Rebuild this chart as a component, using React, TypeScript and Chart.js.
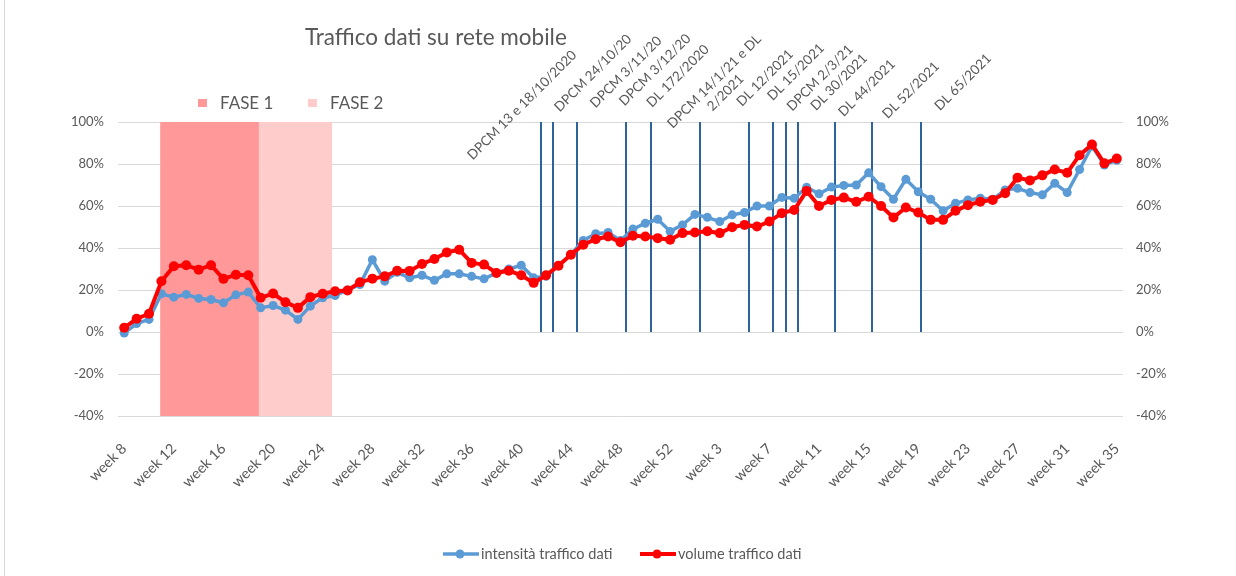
import React, { useEffect, useRef } from 'react';
import { Chart, registerables } from 'chart.js';

Chart.register(...registerables);

// ---------- data ----------
const weeks = [
  'week 8', 'week 9', 'week 10', 'week 11', 'week 12', 'week 13', 'week 14', 'week 15', 'week 16', 'week 17',
  'week 18', 'week 19', 'week 20', 'week 21', 'week 22', 'week 23', 'week 24', 'week 25', 'week 26', 'week 27',
  'week 28', 'week 29', 'week 30', 'week 31', 'week 32', 'week 33', 'week 34', 'week 35', 'week 36', 'week 37',
  'week 38', 'week 39', 'week 40', 'week 41', 'week 42', 'week 43', 'week 44', 'week 45', 'week 46', 'week 47',
  'week 48', 'week 49', 'week 50', 'week 51', 'week 52', 'week 53', 'week 1', 'week 2', 'week 3', 'week 4',
  'week 5', 'week 6', 'week 7', 'week 8', 'week 9', 'week 10', 'week 11', 'week 12', 'week 13', 'week 14',
  'week 15', 'week 16', 'week 17', 'week 18', 'week 19', 'week 20', 'week 21', 'week 22', 'week 23', 'week 24',
  'week 25', 'week 26', 'week 27', 'week 28', 'week 29', 'week 30', 'week 31', 'week 32', 'week 33', 'week 34',
  'week 35',
];

// intensità traffico dati (%)
const intensita = [
  -0.5, 4, 6, 18.2, 16.6, 17.9, 16, 15.5, 13.9, 17.7,
  19, 11.5, 12.6, 10.4, 6, 12.3, 16.3, 17.4, 20, 22.6,
  34.4, 24.2, 28.4, 25.8, 27, 24.6, 27.7, 27.7, 26.5, 25.3,
  28.1, 30, 31.8, 25.8, 26.5, 31.6, 37, 43.6, 46.8, 47.4,
  43.6, 49, 51.8, 53.7, 47.9, 51, 56, 54.6, 52.6, 55.8,
  56.9, 60, 60, 64.1, 63.7, 68.9, 65.8, 69, 69.8, 70,
  75.8, 69.2, 63.2, 72.7, 66.8, 63.2, 57.7, 61.3, 62.9, 63.7,
  63.2, 67.6, 68.4, 66.4, 65.3, 70.8, 66.4, 77.4, 88.5, 79.5,
  81.8,
];

// volume traffico dati (%)
const volume = [
  2, 6.3, 8.7, 24.2, 31.3, 31.8, 29.7, 31.8, 25.3, 27.3,
  27, 16.3, 18.3, 14.2, 11.5, 16.6, 18.2, 19.4, 19.8, 23.7,
  25.4, 26.5, 29.2, 29.1, 32.4, 34.8, 37.9, 39.2, 32.9, 32.1,
  28.1, 29.2, 27, 23.4, 27, 31.6, 36.8, 41.6, 44.2, 45.5,
  42.7, 45.8, 45.5, 44.7, 43.9, 47.1, 47.4, 48, 47.1, 49.9,
  51, 50.2, 52.6, 56.6, 58.1, 67.2, 60, 62.9, 64, 62,
  64.4, 60, 54.5, 59.3, 56.9, 53.4, 53.4, 57.7, 60.4, 62,
  62.9, 66.1, 73.5, 72.2, 74.6, 77.4, 75.8, 84.2, 89.3, 80.3,
  82.6,
];

const seriesNames = ['intensità traffico dati', 'volume traffico dati'];

const yMin = -40;
const yMax = 100;
const yStep = 20;

// phases (fractional category index on the week axis)
const phaseNames = ['FASE 1', 'FASE 2'];
const phaseStart = [2.9, 10.86];
const phaseEnd = [10.86, 16.75];

// decrees (fractional category index where the vertical line sits)
const eventNames = [
  'DPCM 13 e 18/10/2020',
  'DPCM 24/10/20',
  'DPCM 3/11/20',
  'DPCM 3/12/20',
  'DL 172/2020',
  'DPCM 14/1/21 e DL\n2/2021',
  'DL 12/2021',
  'DL 15/2021',
  'DPCM 2/3/21',
  'DL 30/2021',
  'DL 44/2021',
  'DL 52/2021',
  'DL 65/2021',
];
const eventAt = [33.56, 34.53, 36.51, 40.43, 42.42, 46.4, 50.37, 52.3, 53.33, 54.3, 57.3, 60.26, 64.18];
const eventTop = 100;
const eventBottom = 0;
// label anchors in data space (category index, value %)
const eventLabelAt = [32.05, 37.78, 40.43, 42.77, 44.62, 48.01, 51.64, 54.13, 56.07, 57.6, 59.85, 63.4, 67.6];
const eventLabelLevel = [108, 123.3, 123.8, 124.8, 121.9, 116.7, 121, 123.8, 121, 119, 116.2, 115.2, 119];

const titleText = 'Traffico dati su rete mobile';

// ---------- styles ----------
const FONT = 'Lato, "Open Sans", sans-serif';
const TEXT = '#595959';
const BLUE = '#5B9BD5';
const RED = '#FF0000';
const PHASE_COLORS = ['#FF9999', '#FFCCCC'];
const EVENT_COLOR = '#2E6399';

const overlay = {
  id: 'overlay',
  beforeDatasetsDraw(chart: any) {
    const { ctx, chartArea, scales } = chart;
    const x = scales.x;
    const y = scales.y;
    ctx.save();
    phaseNames.forEach((_, k) => {
      const x0 = x.getPixelForValue(phaseStart[k]);
      const x1 = x.getPixelForValue(phaseEnd[k]);
      ctx.fillStyle = PHASE_COLORS[k];
      ctx.fillRect(x0, chartArea.top, x1 - x0, chartArea.bottom - chartArea.top);
    });
    ctx.strokeStyle = EVENT_COLOR;
    ctx.lineWidth = 2;
    eventAt.forEach((v) => {
      const px = Math.round(x.getPixelForValue(v));
      ctx.beginPath();
      ctx.moveTo(px, y.getPixelForValue(eventTop));
      ctx.lineTo(px, y.getPixelForValue(eventBottom));
      ctx.stroke();
    });
    ctx.restore();
  },
  afterDraw(chart: any) {
    const { ctx, scales } = chart;
    const x = scales.x;
    const y = scales.y;
    ctx.save();
    // title
    ctx.fillStyle = TEXT;
    ctx.font = `22.5px ${FONT}`;
    ctx.textAlign = 'left';
    ctx.textBaseline = 'middle';
    ctx.fillText(titleText, 305, 38);

    // phase legend
    ctx.font = `17px ${FONT}`;
    const phaseLegendX = [198, 308];
    phaseNames.forEach((name, k) => {
      ctx.fillStyle = PHASE_COLORS[k];
      ctx.fillRect(phaseLegendX[k], 99, 9, 8);
      ctx.fillStyle = TEXT;
      ctx.fillText(name, phaseLegendX[k] + 22, 104);
    });

    // event labels
    ctx.font = `13.5px ${FONT}`;
    ctx.fillStyle = TEXT;
    ctx.textAlign = 'center';
    eventNames.forEach((name, k) => {
      const cx = x.getPixelForValue(eventLabelAt[k]);
      const cy = y.getPixelForValue(eventLabelLevel[k]);
      const lines = name.split('\n');
      ctx.save();
      ctx.translate(cx, cy);
      ctx.rotate(-Math.PI / 4);
      const lh = 16;
      lines.forEach((ln, j) => {
        ctx.fillText(ln, 0, (j - (lines.length - 1) / 2) * lh);
      });
      ctx.restore();
    });

    // series legend
    const legendX = [443, 640];
    const colors = [BLUE, RED];
    const widths = [3.5, 4];
    const ly = 554;
    ctx.font = `14.5px ${FONT}`;
    ctx.textAlign = 'left';
    seriesNames.forEach((name, k) => {
      ctx.strokeStyle = colors[k];
      ctx.lineWidth = widths[k];
      ctx.beginPath();
      ctx.moveTo(legendX[k], ly);
      ctx.lineTo(legendX[k] + 36, ly);
      ctx.stroke();
      ctx.fillStyle = colors[k];
      ctx.beginPath();
      ctx.arc(legendX[k] + 17, ly, 4.5, 0, Math.PI * 2);
      ctx.fill();
      ctx.fillStyle = TEXT;
      ctx.fillText(name, legendX[k] + 38, ly);
    });
    ctx.restore();
  },
};

export default function App() {
  const canvasRef = useRef<HTMLCanvasElement | null>(null);

  useEffect(() => {
    if (!canvasRef.current) return;
    const tickFont = { family: FONT, size: 13 };
    const chart = new Chart(canvasRef.current, {
      type: 'line',
      data: {
        labels: weeks,
        datasets: [
          {
            label: seriesNames[0],
            data: intensita,
            borderColor: BLUE,
            backgroundColor: BLUE,
            borderWidth: 3.5,
            pointRadius: 4.5,
            pointBorderWidth: 0,
            pointBackgroundColor: BLUE,
            tension: 0,
            order: 2,
          },
          {
            label: seriesNames[1],
            data: volume,
            borderColor: RED,
            backgroundColor: RED,
            borderWidth: 4,
            pointRadius: 5,
            pointBorderWidth: 0,
            pointBackgroundColor: RED,
            tension: 0,
            order: 1,
          },
        ],
      },
      options: {
        animation: false,
        responsive: true,
        maintainAspectRatio: false,
        layout: { padding: { top: 122, left: 0, right: 0, bottom: 0 } },
        plugins: {
          legend: { display: false },
          title: { display: false },
          tooltip: { enabled: false },
        },
        scales: {
          x: {
            type: 'category',
            offset: true,
            grid: { display: false, drawTicks: false },
            border: { display: false },
            ticks: {
              autoSkip: false,
              minRotation: 45,
              maxRotation: 45,
              padding: 24,
              color: TEXT,
              font: { family: FONT, size: 14.5 },
              callback: (_v: any, i: number) => (i % 4 === 0 ? weeks[i] : ''),
            },
            afterFit: (s: any) => {
              s.height = 160;
            },
          },
          y: {
            position: 'left',
            min: yMin,
            max: yMax,
            grid: { color: '#D9D9D9', lineWidth: 1, drawTicks: false },
            border: { display: false },
            ticks: {
              stepSize: yStep,
              padding: 14,
              color: TEXT,
              font: tickFont,
              callback: (v: any) => `${v}%`,
            },
            afterFit: (s: any) => {
              s.width = 118;
            },
          },
          y2: {
            position: 'right',
            min: yMin,
            max: yMax,
            grid: { display: false, drawTicks: false },
            border: { display: false },
            ticks: {
              stepSize: yStep,
              padding: 13,
              color: TEXT,
              font: tickFont,
              callback: (v: any) => `${v}%`,
            },
            afterFit: (s: any) => {
              s.width = 113;
            },
          },
        },
      },
      plugins: [overlay],
    });
    return () => chart.destroy();
  }, []);

  return (
    <div
      style={{
        position: 'fixed',
        left: 0,
        top: 0,
        width: 1236,
        height: 576,
        background: '#fff',
      }}
    >
      <div
        style={{
          position: 'absolute',
          left: 4,
          top: 0,
          width: 1,
          height: 576,
          background: '#D9D9D9',
        }}
      />
      <canvas ref={canvasRef} />
    </div>
  );
}
